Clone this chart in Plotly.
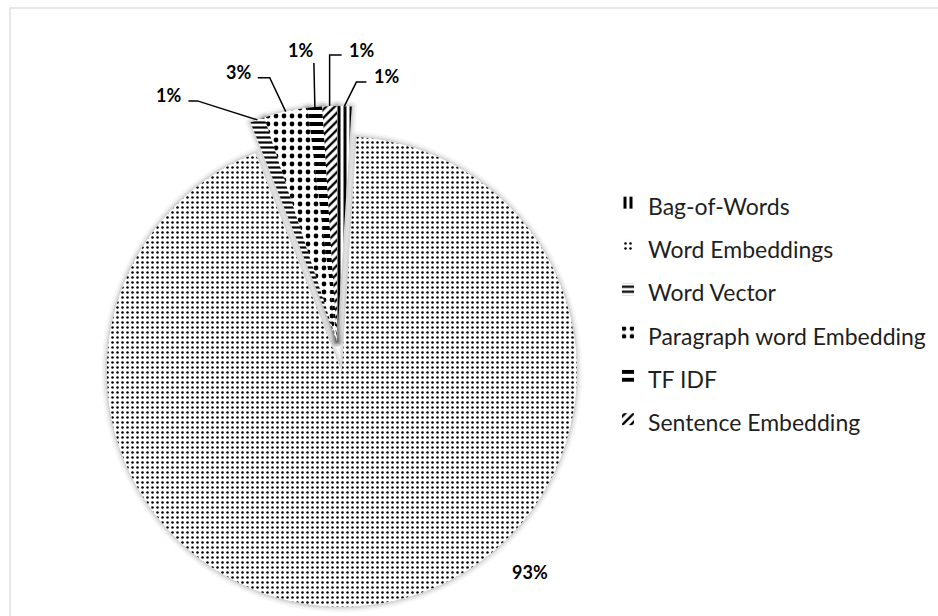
import math
import plotly.graph_objects as go

# Share of publications per text-representation technique (percent)
categories = ["Bag-of-Words", "Word Embeddings", "Word Vector",
              "Paragraph word Embedding", "TF IDF", "Sentence Embedding"]
shares = [1, 93, 1, 3, 1, 1]
share_labels = ["1%", "93%", "1%", "3%", "1%", "1%"]

# ---- figure geometry (pixels) ----
W, H = 938, 616
CX, CY = 337, 341          # pie centre
R = 235                    # pie radius
pull = [0, 0.132, 0, 0, 0, 0]
half = R * (1 + max(pull))

# hatch fills, one per slice
pat_shape = ["|", ".", "-", ".", "-", "/"]
pat_size = [6, 5, 5, 8, 8, 6]
pat_solid = [0.5, 0.2, 0.45, 0.28, 0.5, 0.4]

# leader layout per slice: elbow offset from arc point, horizontal tail,
# text offset from tail end, text anchor side (None = no leader line)
leader = [
    dict(elbow=(12, -24), tail=10, text=(6, -6), side="left"),
    dict(elbow=None, text=(151, -32), side="center"),
    dict(elbow=(-60, -19), tail=-9, text=(-5, -6), side="right"),
    dict(elbow=(-16, -34), tail=-12, text=(-5, -6), side="right"),
    dict(elbow=(-1, -44), tail=0, text=(1, -13), side="right"),
    dict(elbow=(0, -51), tail=12, text=(5, -5), side="left"),
]


def px(x):
    return x / W


def py(y):
    return 1 - y / H


domain = dict(x=[px(CX - half), px(CX + half)], y=[py(CY + half), py(CY - half)])

fig = go.Figure()

# soft halo around the slices
for width, alpha in [(11, 0.035), (7, 0.05), (3.5, 0.08)]:
    fig.add_trace(go.Pie(
        labels=categories, values=shares, sort=False, direction="clockwise",
        rotation=0, pull=pull, domain=domain, textinfo="none", hoverinfo="skip",
        showlegend=False,
        marker=dict(colors=["white"] * len(shares),
                    line=dict(color=f"rgba(0,0,0,{alpha})", width=width)),
    ))

legend_names = [f"<span style='font-size:23px'>{c}</span>" for c in categories]

fig.add_trace(go.Pie(
    labels=legend_names, values=shares, sort=False, direction="clockwise",
    rotation=0, pull=pull, domain=domain, textinfo="none",
    marker=dict(
        colors=["white"] * len(shares),
        line=dict(width=0),
        pattern=dict(shape=pat_shape, size=pat_size, solidity=pat_solid,
                     fgcolor="black", bgcolor="white", fillmode="replace"),
    ),
))

# value labels with leader lines
total = sum(shares)
cum = 0
shapes = []
annotations = []
for i, v in enumerate(shares):
    mid = math.radians(360 * (cum + v / 2) / total)
    cum += v
    dx, dy = math.sin(mid), -math.cos(mid)
    ocx = CX + pull[i] * R * dx
    ocy = CY + pull[i] * R * dy
    ax, ay = ocx + R * dx, ocy + R * dy
    lay = leader[i]
    if lay["elbow"] is not None:
        ex, ey = ax + lay["elbow"][0], ay + lay["elbow"][1]
        tx, ty = ex + lay["tail"], ey
        shapes.append(dict(
            type="path", xref="paper", yref="paper",
            path=f"M {px(ax)},{py(ay)} L {px(ex)},{py(ey)} L {px(tx)},{py(ty)}",
            line=dict(color="black", width=1.5),
        ))
    else:
        tx, ty = ax, ay
    lx, ly = tx + lay["text"][0], ty + lay["text"][1]
    annotations.append(dict(
        x=px(lx), y=py(ly), xref="paper", yref="paper", showarrow=False,
        text=f"<b>{share_labels[i]}</b>", xanchor=lay["side"], yanchor="middle",
        font=dict(family="Lato", size=18, color="black"),
    ))

# outer chart border
shapes.append(dict(type="rect", xref="paper", yref="paper",
                   x0=px(10), y0=py(H + 5), x1=px(W + 5), y1=py(8),
                   line=dict(color="#dcdfe5", width=1.5), layer="below"))

fig.update_layout(
    width=W, height=H,
    margin=dict(l=0, r=0, t=0, b=0),
    paper_bgcolor="white", plot_bgcolor="white",
    shapes=shapes, annotations=annotations,
    legend=dict(x=px(608), y=py(311), xanchor="left", yanchor="middle",
                font=dict(family="Lato", size=31, color="#1f1f1f"),
                traceorder="normal", bgcolor="rgba(0,0,0,0)"),
)

fig.write_html("out.html")
